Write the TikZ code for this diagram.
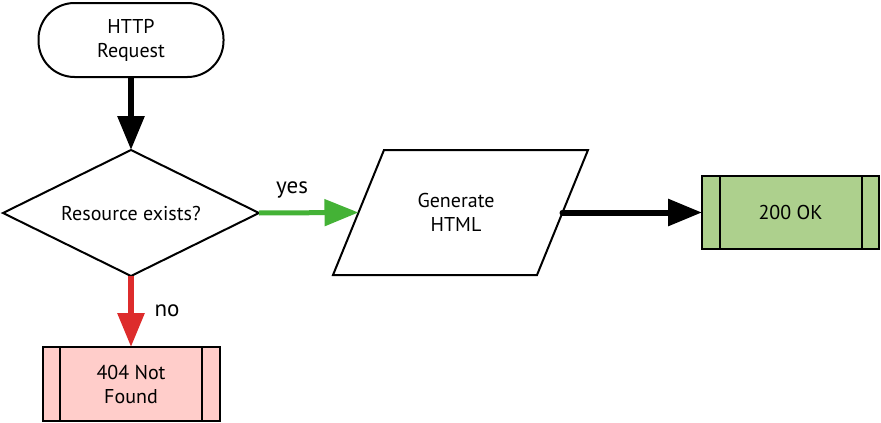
\documentclass[tikz,border=0pt]{standalone}
\usepackage{fontspec}
\setmainfont{PT Sans}
\usetikzlibrary{arrows.meta,shapes.geometric,calc}
\definecolor{okgreen}{HTML}{ADD08D}
\definecolor{nfpink}{HTML}{FFCDCA}
\definecolor{yesgreen}{HTML}{44B236}
\definecolor{nored}{HTML}{DD2C2C}
\tikzset{
  base/.style={draw=black,line width=2pt,outer sep=0pt,inner sep=0pt,align=center,
    font=\fontsize{20}{24}\selectfont},
  terminal/.style={base,rectangle,rounded corners=36pt,minimum width=185pt,minimum height=74pt},
  decision/.style={base,diamond,aspect=2.03,minimum width=256pt,minimum height=126pt},
  predef/.style={base,rectangle,minimum width=177pt,minimum height=74pt,
    path picture={
      \draw[line width=2pt] ([xshift=17.5pt]path picture bounding box.north west) -- ([xshift=17.5pt]path picture bounding box.south west);
      \draw[line width=2pt] ([xshift=-17.5pt]path picture bounding box.north east) -- ([xshift=-17.5pt]path picture bounding box.south east);
    }},
  flow/.style={line width=6pt,-{Triangle[length=34pt,width=26pt]}},
  lbl/.style={font=\fontsize{23}{26}\selectfont,inner sep=0pt}
}
\begin{document}
\begin{tikzpicture}[x=1pt,y=-1pt]
\useasboundingbox (0,0) rectangle (881,423);
\node[terminal] (req) at (131,40) {HTTP\\Request};
\node[decision] (dia) at (131,213) {Resource exists?};
\node[predef,fill=nfpink] (nf) at (131,384) {404 Not\\Found};
% input/output parallelogram
\draw[line width=2pt,line join=miter] (384,150) -- (588,150) -- (537,275) -- (333,275) -- cycle;
\node[base,draw=none] (par) at (456,212) {Generate\\HTML};
\coordinate (parL) at (358.5,212.5);
\coordinate (parR) at (562.5,212.5);
\node[predef,fill=okgreen,minimum height=73pt] (ok) at (790.5,212.5) {200 OK};
\draw[flow,black] (req.south) -- (dia.north);
\draw[flow,nored] (dia.south) -- (nf.north);
\draw[flow,yesgreen,line width=5pt] (dia.east) -- (parL);
\draw[flow,black,line cap=round] (parR) -- (ok.west);
\node[lbl] (yes) at (292,190) {yes};
\node[lbl] (no) at (167,311) {no};
\end{tikzpicture}
\end{document}
